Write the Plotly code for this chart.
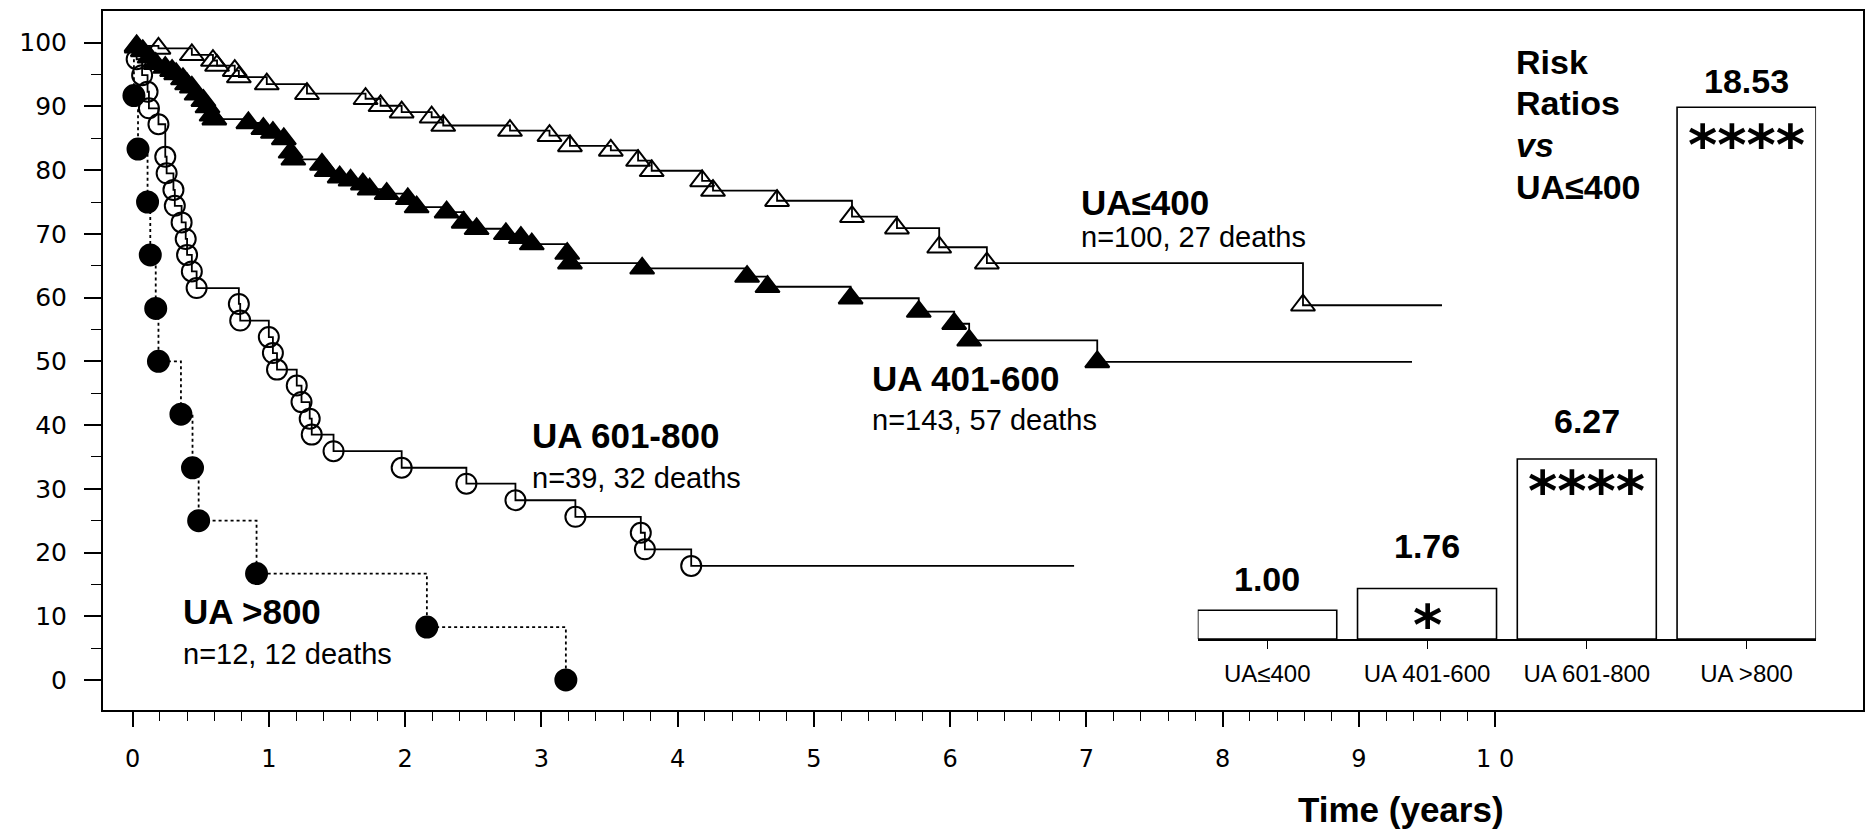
import plotly.graph_objects as go

# ---------------- Kaplan-Meier data (time in years, survival %) ----------------
# UA <= 400 (open triangles)
t_le400 = [0.03, 0.19, 0.435, 0.59, 0.62, 0.75, 0.78, 0.985, 1.28, 1.71, 1.82, 1.975,
           2.195, 2.28, 2.77, 3.06, 3.21, 3.51, 3.71, 3.81, 4.18, 4.26, 4.73, 5.28,
           5.61, 5.92, 6.27, 8.59]
s_le400 = [99.5, 99.1, 98.1, 97.2, 96.4, 95.6, 94.6, 93.5, 92.0, 91.2, 90.1, 89.1,
           88.3, 87.0, 86.2, 85.4, 83.8, 83.1, 81.5, 79.9, 78.3, 76.8, 75.2, 72.7,
           70.9, 67.9, 65.4, 58.8]
end_le400 = 9.61

# UA 401-600 (filled triangles)
t_401 = [0.03, 0.075, 0.125, 0.17, 0.24, 0.29, 0.32, 0.37, 0.40, 0.435, 0.47, 0.52,
         0.55, 0.58, 0.60, 0.85, 0.96, 1.03, 1.11, 1.16, 1.18, 1.39, 1.425, 1.52,
         1.60, 1.69, 1.74, 1.865, 2.02, 2.085, 2.305, 2.43, 2.525, 2.74, 2.85, 2.93,
         3.19, 3.21, 3.74, 4.51, 4.66, 5.27, 5.77, 6.03, 6.14, 7.08]
s_401 = [99.3, 98.7, 97.7, 96.7, 96.1, 95.6, 95.1, 94.3, 93.5, 93.0, 91.9, 90.9,
         89.9, 88.6, 88.0, 87.4, 86.5, 85.9, 84.9, 82.8, 81.7, 80.9, 79.9, 78.9,
         78.4, 77.8, 77.0, 76.3, 75.5, 74.2, 73.4, 71.8, 70.8, 70.0, 69.4, 68.4,
         66.9, 65.4, 64.6, 63.3, 61.7, 59.9, 57.8, 55.9, 53.3, 49.9]
end_401 = 9.39

# UA 601-800 (open circles)
t_601 = [0.03, 0.07, 0.11, 0.12, 0.19, 0.24, 0.25, 0.30, 0.31, 0.36, 0.39, 0.40,
         0.435, 0.47, 0.78, 0.79, 1.00, 1.03, 1.06, 1.205, 1.24, 1.30, 1.315, 1.475,
         1.975, 2.45, 2.81, 3.25, 3.73, 3.76, 4.10]
s_601 = [97.4, 94.9, 92.3, 89.7, 87.2, 82.1, 79.5, 76.9, 74.4, 71.8, 69.2, 66.7,
         64.1, 61.5, 59.0, 56.4, 53.8, 51.3, 48.7, 46.2, 43.6, 41.0, 38.5, 35.9,
         33.3, 30.8, 28.2, 25.6, 23.1, 20.5, 17.9]
end_601 = 6.91

# UA > 800 (filled circles)
t_800 = [0.01, 0.04, 0.11, 0.13, 0.17, 0.19, 0.355, 0.44, 0.485, 0.91, 2.16, 3.18]
s_800 = [91.7, 83.3, 75.0, 66.7, 58.3, 50.0, 41.7, 33.3, 25.0, 16.7, 8.3, 0.0]

# ---------------- Risk ratio inset ----------------
rr_cats = ["UA≤400", "UA 401-600", "UA 601-800", "UA >800"]
rr_vals = [1.00, 1.76, 6.27, 18.53]
rr_sig = ["", "*", "****", "****"]

x_ticks = list(range(0, 11))
x_ticktext = ["0", "1", "2", "3", "4", "5", "6", "7", "8", "9", "1 0"]
y_ticks = list(range(0, 101, 10))
y_ticktext = [str(v) for v in y_ticks]

# ---------------- styling constants ----------------
FONT = "Liberation Sans, Arial, sans-serif"
TICKFONT = "DejaVu Sans, sans-serif"
BLACK = "black"


def km_path(times, surv, t_end=None):
    xs = [0.0] + list(times)
    ys = [100.0] + list(surv)
    if t_end is not None:
        xs.append(t_end)
        ys.append(surv[-1])
    return xs, ys


fig = go.Figure()

groups = [
    (t_le400, s_le400, end_le400, "triangle-up-open", 21, "solid"),
    (t_401, s_401, end_401, "triangle-up", 21, "solid"),
    (t_601, s_601, end_601, "circle-open", 20, "solid"),
    (t_800, s_800, None, "circle", 21, "dot"),
]

for times, surv, t_end, sym, size, dash in groups:
    lx, ly = km_path(times, surv, t_end)
    fig.add_trace(go.Scatter(
        x=lx, y=ly, mode="lines", line=dict(shape="hv", color=BLACK, width=1.8, dash=dash),
        showlegend=False, hoverinfo="skip", xaxis="x", yaxis="y"))
    fig.add_trace(go.Scatter(
        x=times, y=surv, mode="markers",
        marker=dict(symbol=sym, size=size, color=BLACK, line=dict(color=BLACK, width=2)),
        showlegend=False, xaxis="x", yaxis="y"))

fig.add_trace(go.Bar(
    x=rr_cats, y=rr_vals, xaxis="x2", yaxis="y2", width=0.87,
    marker=dict(color="white", line=dict(color=BLACK, width=1.6)),
    showlegend=False))

annotations = []
# curve labels: (title, subtitle, x, title y, subtitle y)
curve_labels = [
    ("UA≤400", "n=100, 27 deaths", 6.946, 75.0, 69.5),
    ("UA 401-600", "n=143, 57 deaths", 5.414, 47.3, 40.8),
    ("UA 601-800", "n=39, 32 deaths", 2.914, 38.3, 31.7),
    ("UA >800", "n=12, 12 deaths", 0.355, 10.67, 4.08),
]
for title, sub, lx, ty, sy in curve_labels:
    annotations.append(dict(x=lx, y=ty, xref="x", yref="y", text="<b>%s</b>" % title,
                            showarrow=False, xanchor="left", yanchor="middle",
                            font=dict(family=FONT, size=35, color=BLACK)))
    annotations.append(dict(x=lx, y=sy, xref="x", yref="y", text=sub,
                            showarrow=False, xanchor="left", yanchor="middle",
                            font=dict(family=FONT, size=29, color=BLACK)))

# "Risk Ratios vs UA<=400"
for txt, yy in [("<b>Risk</b>", 97.0), ("<b>Ratios</b>", 90.6),
                ("<b><i>vs</i></b>", 83.9), ("<b>UA≤400</b>", 77.3)]:
    annotations.append(dict(x=10.14, y=yy, xref="x", yref="y", text=txt, showarrow=False,
                            xanchor="left", yanchor="middle",
                            font=dict(family=FONT, size=34, color=BLACK)))

# bar value labels and significance stars (pixel offsets from the bar top)
value_shift = [31, 42, 38, 26]
star_shift = [-35, -36, -31, -37]
for cat, val, sig, vs, ss in zip(rr_cats, rr_vals, rr_sig, value_shift, star_shift):
    annotations.append(dict(x=cat, y=val, xref="x2", yref="y2", text="<b>%.2f</b>" % val,
                            showarrow=False, xanchor="center", yanchor="middle", yshift=vs,
                            font=dict(family=FONT, size=34, color=BLACK)))
    if sig:
        annotations.append(dict(x=cat, y=val, xref="x2", yref="y2", text="<b>%s</b>" % sig,
                                showarrow=False, xanchor="center", yanchor="middle", yshift=ss,
                                font=dict(family="DejaVu Sans, sans-serif", size=56, color=BLACK)))

# x axis title
annotations.append(dict(x=9.307, y=-0.143, xref="x", yref="paper", text="<b>Time (years)</b>",
                        showarrow=False, xanchor="center", yanchor="middle",
                        font=dict(family=FONT, size=35, color=BLACK)))

fig.update_layout(
    width=1869, height=836, autosize=False,
    margin=dict(l=103, r=4, t=11, b=126),
    paper_bgcolor="white", plot_bgcolor="rgba(0,0,0,0)",
    showlegend=False,
    annotations=annotations,
    xaxis=dict(
        domain=[0, 1], range=[-0.217, 12.70], showgrid=False, zeroline=False,
        showline=True, mirror=True, linecolor=BLACK, linewidth=2,
        tickmode="array", tickvals=x_ticks, ticktext=x_ticktext,
        ticks="outside", ticklen=15, tickwidth=1.6, tickcolor=BLACK,
        ticklabelstandoff=11,
        tickfont=dict(family=TICKFONT, size=24, color=BLACK),
        minor=dict(tickmode="array", tickvals=[i / 5 for i in range(0, 51) if i % 5],
                   ticks="outside", ticklen=9, tickwidth=1.4, tickcolor=BLACK, showgrid=False),
    ),
    yaxis=dict(
        domain=[0, 1], range=[-4.71, 104.97], showgrid=False, zeroline=False,
        showline=True, mirror=True, linecolor=BLACK, linewidth=2,
        tickmode="array", tickvals=y_ticks, ticktext=y_ticktext,
        ticks="outside", ticklen=17, tickwidth=1.6, tickcolor=BLACK,
        ticklabelstandoff=12,
        tickfont=dict(family=TICKFONT, size=25, color=BLACK),
        minor=dict(tickmode="array", tickvals=list(range(5, 100, 10)),
                   ticks="outside", ticklen=10, tickwidth=1.4, tickcolor=BLACK, showgrid=False),
    ),
    xaxis2=dict(
        domain=[0.62202, 0.97333], anchor="y2", range=[-0.435, 3.435], type="category",
        showgrid=False, zeroline=False, showline=True, linecolor=BLACK, linewidth=1.6,
        ticks="outside", ticklen=8, tickwidth=1.4, tickcolor=BLACK,
        ticklabelstandoff=4,
        tickfont=dict(family=FONT, size=24, color=BLACK),
    ),
    yaxis2=dict(
        domain=[0.10157, 0.9227], anchor="x2", range=[0, 20], visible=False,
    ),
)

fig.write_html("out.html")
